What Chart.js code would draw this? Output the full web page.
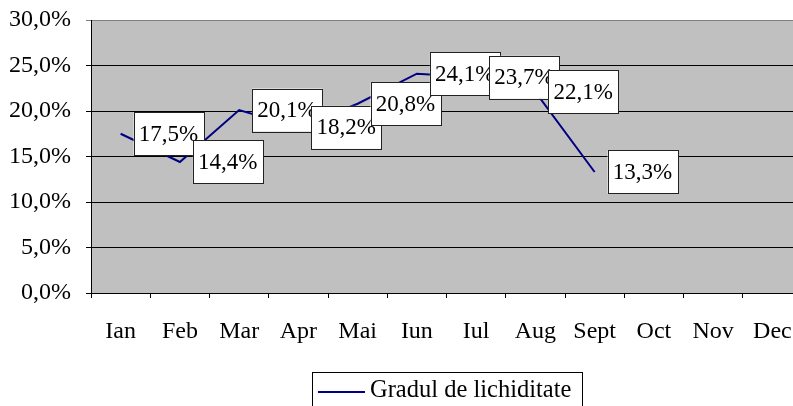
<!DOCTYPE html>
<html>
<head>
<meta charset="utf-8">
<script src="https://cdn.jsdelivr.net/npm/chart.js@4"></script>
<style>
  html, body { margin: 0; padding: 0; background: #fff; overflow: hidden; }
  #wrap { width: 793px; height: 406px; overflow: hidden; }
</style>
</head>
<body>
<div id="wrap"><canvas id="myChart" width="802" height="406"></canvas></div>
<script>
//luni
var months = ['Ian', 'Feb', 'Mar', 'Apr', 'Mai', 'Iun', 'Iul', 'Aug', 'Sept', 'Oct', 'Nov', 'Dec'];
//gradul de lichiditate (%)
var lichiditate = [17.5, 14.4, 20.1, 18.2, 20.8, 24.1, 23.7, 22.1, 13.3, null, null, null];
var seriesName = 'Gradul de lichiditate';
var FONT = '"Liberation Serif", "Times New Roman", serif';

function fmt(v) {
    return v.toFixed(1).replace('.', ',') + '%';
}

//fundal gri pentru zona graficului
var areaBg = {
    id: 'areaBg',
    beforeDraw(chart) {
        let a = chart.chartArea, c = chart.ctx;
        c.save();
        c.fillStyle = '#c0c0c0';
        c.fillRect(a.left, a.top, a.right - a.left, a.bottom - a.top);
        c.restore();
    }
};

//etichete cu valori (cutii albe)
var valueBoxes = {
    id: 'valueBoxes',
    afterDatasetsDraw(chart) {
        let c = chart.ctx;
        let meta = chart.getDatasetMeta(0);
        c.save();
        c.font = '23px ' + FONT;
        c.textBaseline = 'middle';
        meta.data.forEach((pt, i) => {
            let v = chart.data.datasets[0].data[i];
            if (v == null) return;
            let txt = fmt(v);
            let w = c.measureText(txt).width + 11;
            let h = 43;
            let x = pt.x + 13, y = pt.y - h / 2;
            c.fillStyle = '#fff';
            c.fillRect(x, y, w, h);
            c.strokeStyle = '#222';
            c.lineWidth = 1;
            c.strokeRect(Math.round(x) + 0.5, Math.round(y) + 0.5, Math.round(w), h);
            c.fillStyle = '#000';
            c.fillText(txt, x + 5, pt.y + 1);
        });
        c.restore();
    }
};

//legenda cu chenar
var boxLegend = {
    id: 'boxLegend',
    afterDraw(chart) {
        let c = chart.ctx;
        let ds = chart.data.datasets[0];
        c.save();
        c.font = '24.5px ' + FONT;
        let tw = c.measureText(ds.label).width;
        let left = 312, top = 372, w = 58 + tw + 11;
        c.fillStyle = '#fff';
        c.fillRect(left, top, w, 40);
        c.strokeStyle = '#000';
        c.lineWidth = 1;
        c.strokeRect(left + 0.5, top + 0.5, Math.round(w), 40);
        c.strokeStyle = ds.borderColor;
        c.lineWidth = 2;
        c.beginPath();
        c.moveTo(left + 6, 392);
        c.lineTo(left + 53, 392);
        c.stroke();
        c.fillStyle = '#000';
        c.textBaseline = 'middle';
        c.fillText(ds.label, left + 58, 391);
        c.restore();
    }
};

Chart.defaults.font.family = FONT;
Chart.defaults.font.size = 24;
Chart.defaults.color = '#000';

var ctx = document.getElementById('myChart').getContext('2d');
var myChart = new Chart(ctx, {
    type: 'line',
    data: {
        labels: months,
        datasets: [{
            label: seriesName,
            data: lichiditate,
            borderColor: '#000080',
            backgroundColor: '#000080',
            borderWidth: 2,
            pointRadius: 0,
            tension: 0,
            spanGaps: false
        }]
    },
    options: {
        responsive: false,
        animation: false,
        layout: { padding: { top: 20, right: 0, bottom: 0, left: 0 } },
        plugins: {
            legend: { display: false },
            tooltip: { enabled: false }
        },
        scales: {
            x: {
                offset: true,
                grid: {
                    offset: true,
                    drawOnChartArea: false,
                    tickLength: 5,
                    color: '#000'
                },
                border: { color: '#000', width: 1 },
                ticks: { padding: 19, maxRotation: 0, autoSkip: false },
                afterFit(scale) {
                    scale.height = 113;
                    scale.paddingLeft = 0;
                    scale.paddingRight = 0;
                }
            },
            y: {
                min: 0,
                max: 30,
                ticks: {
                    stepSize: 5,
                    padding: 15,
                    callback: (v) => fmt(v)
                },
                grid: {
                    tickLength: 5,
                    color: (c) => c.tick && c.tick.value === 30 ? '#808080' : '#000'
                },
                border: { color: '#000', width: 1 },
                afterFit(scale) {
                    scale.width = 91;
                    scale.paddingTop = 0;
                    scale.paddingBottom = 0;
                }
            }
        }
    },
    plugins: [areaBg, valueBoxes, boxLegend]
});
</script>
</body>
</html>
